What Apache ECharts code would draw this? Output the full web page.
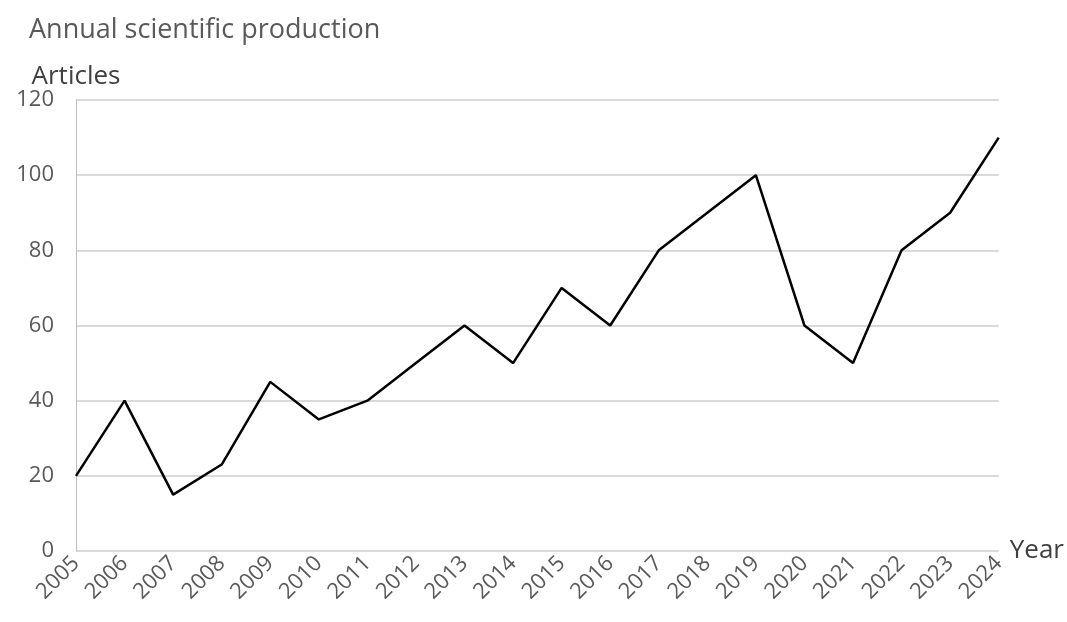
<!DOCTYPE html>
<html>
<head>
<meta charset="utf-8">
<script src="https://cdn.jsdelivr.net/npm/echarts@6/dist/echarts.min.js"></script>
<style>
  html, body { margin: 0; padding: 0; background: #fff; }
  #chart { width: 1067px; height: 622px; }
</style>
</head>
<body>
<div id="chart"></div>
<script>
// annual article counts
var years = ['2005', '2006', '2007', '2008', '2009', '2010', '2011', '2012', '2013', '2014',
             '2015', '2016', '2017', '2018', '2019', '2020', '2021', '2022', '2023', '2024'];
var articles = [20, 40, 15, 23, 45, 35, 40, 50, 60, 50,
                70, 60, 80, 90, 100, 60, 50, 80, 90, 110];

var font = 'Open Sans';
var myChart = echarts.init(document.getElementById('chart'));
var option = {
    animation: false,
    title: {
        text: 'Annual scientific production',
        left: 24,
        top: 12,
        textStyle: { fontFamily: font, fontSize: 27, fontWeight: 'normal', color: '#595959' }
    },
    grid: { left: 76, right: 66, top: 100, bottom: 71 },
    xAxis: {
        type: 'category',
        data: years,
        boundaryGap: false,
        name: 'Year',
        nameLocation: 'end',
        nameGap: 6,
        nameTextStyle: { fontFamily: font, fontSize: 26, color: '#404040', align: 'left' },
        axisLine: { show: false },
        axisTick: { show: false },
        axisLabel: { rotate: 45, margin: 9, fontFamily: font, fontSize: 22, color: '#595959' }
    },
    yAxis: {
        type: 'value',
        min: 0,
        max: 120,
        interval: 20,
        name: 'Articles',
        nameLocation: 'end',
        nameGap: 8,
        nameTextStyle: { fontFamily: font, fontSize: 26, color: '#404040' },
        axisLine: { show: true, lineStyle: { color: '#bfbfbf', width: 1 } },
        axisTick: { show: false },
        axisLabel: { margin: 22, fontFamily: font, fontSize: 22, color: '#595959' },
        splitLine: { lineStyle: { color: '#d9d9d9', width: 2 } }
    },
    series: [{
        type: 'line',
        data: articles,
        symbol: 'none',
        lineStyle: { color: '#000', width: 2.5 }
    }]
};
myChart.setOption(option);
</script>
</body>
</html>
